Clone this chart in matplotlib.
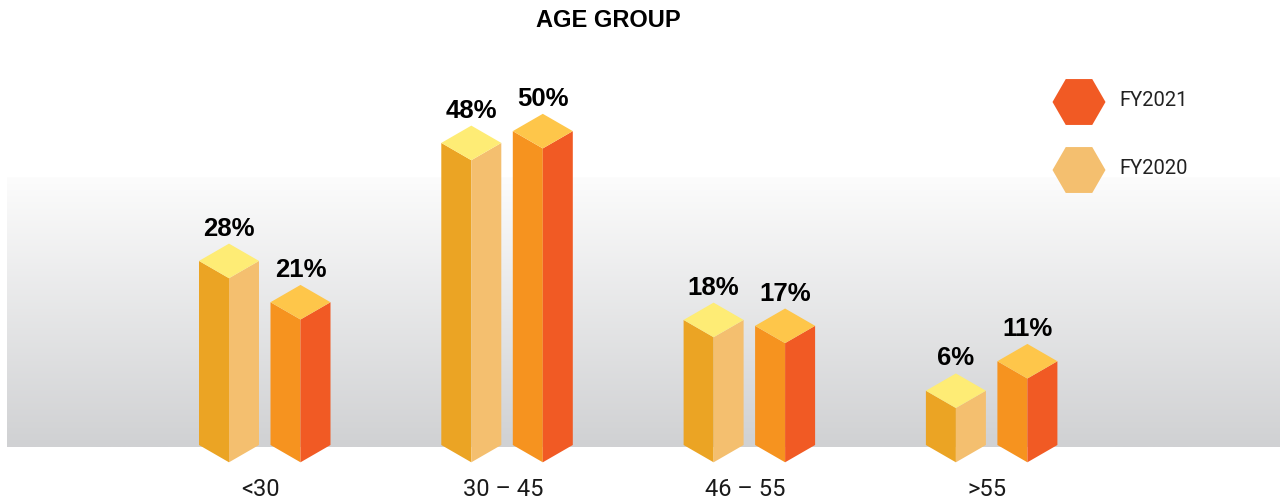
import matplotlib
matplotlib.use("Agg")
import matplotlib.pyplot as plt
import numpy as np
from matplotlib.patches import RegularPolygon
from matplotlib.transforms import IdentityTransform

# Age group split, percent of staff
categories = ["<30", "30 – 45", "46 – 55", ">55"]
fy2020 = [28, 48, 18, 6]
fy2021 = [21, 50, 17, 11]
series_names = ["FY2021", "FY2020"]

# face colours: (left side, right side, top)
c2020 = ("#EBA424", "#F4BF6F", "#FEEC75")
c2021 = ("#F6931F", "#F15A24", "#FEC64A")

# vertical scale: pixels per percentage point and the floor level
px_per_pct = 5.9
floor = -3.2
floor_px = 445
fig_w, fig_h = 1280, 501

fig = plt.figure(figsize=(fig_w / 100, fig_h / 100), dpi=100)
ax = fig.add_axes([0, 0, 1, 1])
y_top = floor_px / px_per_pct + floor
y_bot = floor - (fig_h - floor_px) / px_per_pct
ax.set_xlim(0, fig_w)
ax.set_ylim(y_bot, y_top)
ax.axis("off")


def px2y(py):
    return floor + (floor_px - py) / px_per_pct


# grey gradient floor band
grad = np.linspace(0, 1, 256).reshape(-1, 1)
top_col = np.array([252, 252, 252]) / 255
bot_col = np.array([208, 209, 211]) / 255
img = top_col + grad * (bot_col - top_col)
ax.imshow(img[:, None, :].repeat(2, axis=1), extent=(7, 1280, px2y(447), px2y(177)),
          aspect="auto", zorder=0)

bar_w = 60
half = bar_w / 2
depth = 17.3 / px_per_pct
group_gap = 242.3
first_center = 264.5


def prism(left, value, cols):
    mid = left + half
    right = left + bar_w
    yb, yt = floor, value
    ax.fill([left, mid, mid, left], [yb, yb - depth, yt - depth, yt], color=cols[0], lw=0, zorder=2)
    ax.fill([mid, right, right, mid], [yb - depth, yb, yt, yt - depth], color=cols[1], lw=0, zorder=2)
    ax.fill([left, mid, right, mid], [yt, yt + depth, yt, yt - depth], color=cols[2], lw=0, zorder=2)
    ax.text(mid, yt + depth + 15 / px_per_pct, f"{value}%", ha="center", va="center",
            fontsize=18.5, fontweight="bold", family="Liberation Sans", color="#000000", zorder=3)


for i, cat in enumerate(categories):
    center = first_center + group_gap * i
    prism(center - 65.5, fy2020[i], c2020)
    prism(center + 6, fy2021[i], c2021)
    ax.text(center - 4, px2y(490), cat, ha="center", va="center", fontsize=17,
            family="Roboto", color="#1a1a1a")

ax.text(608, px2y(20), "AGE GROUP", ha="center", va="center", fontsize=17,
        fontweight="bold", family="Liberation Sans", color="#000000")

# legend: hexagon swatches placed in figure pixels
legend_cols = [c2021[1], c2020[1]]
legend_y = [102, 170]
for name, col, ly in zip(series_names, legend_cols, legend_y):
    fig.add_artist(RegularPolygon((1079, fig_h - ly), numVertices=6, radius=26.5,
                                  orientation=np.pi / 6, color=col, lw=0,
                                  transform=IdentityTransform()))
    ax.text(1119, px2y(ly - 2), name, ha="left", va="center", fontsize=14.5,
            family="Roboto", color="#222222")

fig.savefig("out.png", dpi=100)
